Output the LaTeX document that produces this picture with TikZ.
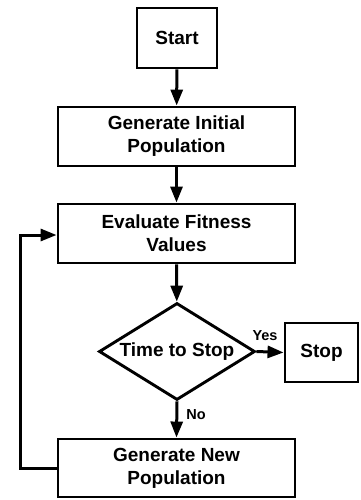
\documentclass[tikz,border=0pt]{standalone}
\usepackage{fontspec}
\setmainfont{Liberation Sans}
\usetikzlibrary{arrows.meta,shapes.geometric}
\begin{document}
\begin{tikzpicture}[x=1pt,y=-1pt,
  box/.style={draw,line width=2.9pt,rectangle,inner sep=0pt,font=\bfseries\fontsize{19}{23}\selectfont,align=center},
  dia/.style={draw,line width=2.9pt,diamond,inner sep=0pt},
  conn/.style={line width=3pt,-{Triangle[length=16pt,width=12pt]}},
  lbl/.style={font=\bfseries\fontsize{14.5}{17}\selectfont,inner sep=0pt}]
\useasboundingbox (0,0) rectangle (360,500);
\node[box,minimum width=80pt,minimum height=60pt] (start) at (177,38) {Start};
\node[box,minimum width=237pt,minimum height=59pt] (init) at (176.5,136.5) {Generate Initial\\Population};
\node[box,minimum width=237pt,minimum height=59pt] (eval) at (176.5,233.5) {Evaluate Fitness\\Values};
\node[dia,minimum width=156pt,minimum height=97pt] (dec) at (177,351.5) {};
\node[font=\bfseries\fontsize{19}{23}\selectfont] (dectext) at (177,352) {Time to Stop};
\node[box,minimum width=73pt,minimum height=59pt] (stop) at (321.5,352.5) {Stop};
\node[box,minimum width=237pt,minimum height=58pt] (newp) at (176.5,468) {Generate New\\Population};
\coordinate (lb) at (20,468);
\coordinate (lt) at (20,235);
\draw[conn] (start) -- (init);
\draw[conn] (init) -- (eval);
\draw[conn] (eval) -- (dec);
\draw[conn] (dec.east) -- (stop.west);
\draw[conn] (dec.south) -- (newp.north);
\node[lbl] (yes) at (265,336) {Yes};
\node[lbl] (no) at (196,415) {No};
\draw[conn,line join=miter] (newp.west) -- (lb) -- (lt) -- (eval.west |- lt);
\end{tikzpicture}
\end{document}
